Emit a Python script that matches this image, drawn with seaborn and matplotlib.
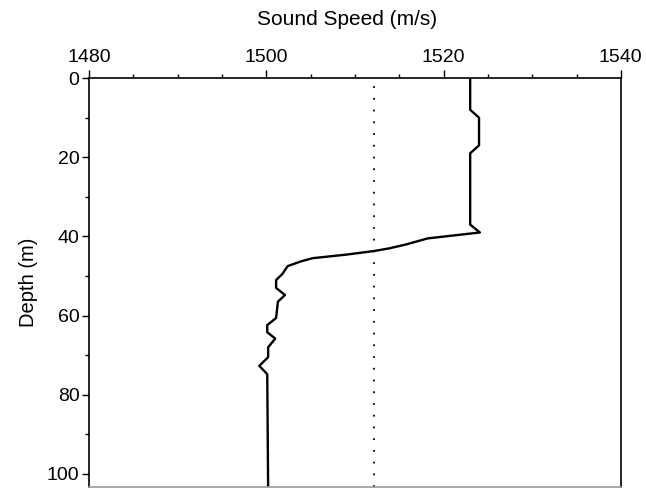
import matplotlib
matplotlib.use("Agg")
import matplotlib.pyplot as plt
import seaborn as sns
import pandas as pd
from matplotlib.ticker import MultipleLocator

# Data
depth = [0, 8, 10, 17, 19, 37, 39, 40.5, 42, 43, 43.7, 44.6, 45.5, 46.3, 47.5,
         49.5, 51, 53, 54.8, 56.5, 60.6, 62.4, 64.2, 65.8, 68, 70.5, 72.7, 74.8, 104]
speed = [1523.0, 1523.0, 1524.0, 1524.0, 1523.0, 1523.0, 1524.1, 1518.2, 1515.8,
         1513.9, 1512.1, 1509.0, 1505.2, 1503.9, 1502.4, 1501.8, 1501.1, 1501.1,
         1502.1, 1501.3, 1501.1, 1500.1, 1500.1, 1501.0, 1500.2, 1500.2, 1499.2,
         1500.1, 1500.2]
ref_speed = 1512.1
x_ticks = [1480, 1500, 1520, 1540]
y_ticks = [0, 20, 40, 60, 80, 100]

sns.set_theme(style="white")
plt.rcParams['font.family'] = ['Liberation Sans', 'DejaVu Sans']

df = pd.DataFrame({"speed": speed, "depth": depth})

fig = plt.figure(figsize=(6.46, 4.88), dpi=100)
ax = fig.add_axes([0.138, 0.002, 0.823, 0.838])

sns.lineplot(data=df, x="speed", y="depth", sort=False, estimator=None,
             color="black", linewidth=1.7, ax=ax)
ax.axvline(ref_speed, color="black", linewidth=1.3, linestyle=(0, (1, 5.5)))

ax.set_xlim(1480, 1540)
ax.set_ylim(103.3, 0)
ax.xaxis.tick_top()
ax.xaxis.set_label_position("top")
ax.set_xticks(x_ticks)
ax.set_yticks(y_ticks)
ax.xaxis.set_minor_locator(MultipleLocator(5))
ax.yaxis.set_minor_locator(MultipleLocator(10))

ax.tick_params(axis="x", which="major", direction="out", length=6, width=1,
               labelsize=14, pad=3, colors="black", top=True, bottom=False)
ax.tick_params(axis="x", which="minor", direction="out", length=3, width=1,
               top=True, bottom=False, colors="black")
ax.tick_params(axis="y", which="major", direction="out", length=5, width=1,
               labelsize=14, pad=2, colors="black", left=True)
ax.tick_params(axis="y", which="minor", direction="out", length=3, width=1,
               left=True, colors="black")

ax.set_xlabel("Sound Speed (m/s)", fontsize=15, color="black")
ax.xaxis.label.set_va("center")
ax.xaxis.set_label_coords(0.486, 1.144)
ax.set_ylabel("Depth (m)", fontsize=14.5, labelpad=6, color="black")

for side in ["top", "left", "right"]:
    ax.spines[side].set_visible(True)
    ax.spines[side].set_color("black")
    ax.spines[side].set_linewidth(1.2)
ax.spines["bottom"].set_visible(True)
ax.spines["bottom"].set_color("#999999")
ax.spines["bottom"].set_linewidth(1.2)

fig.savefig("out.png", dpi=100)
